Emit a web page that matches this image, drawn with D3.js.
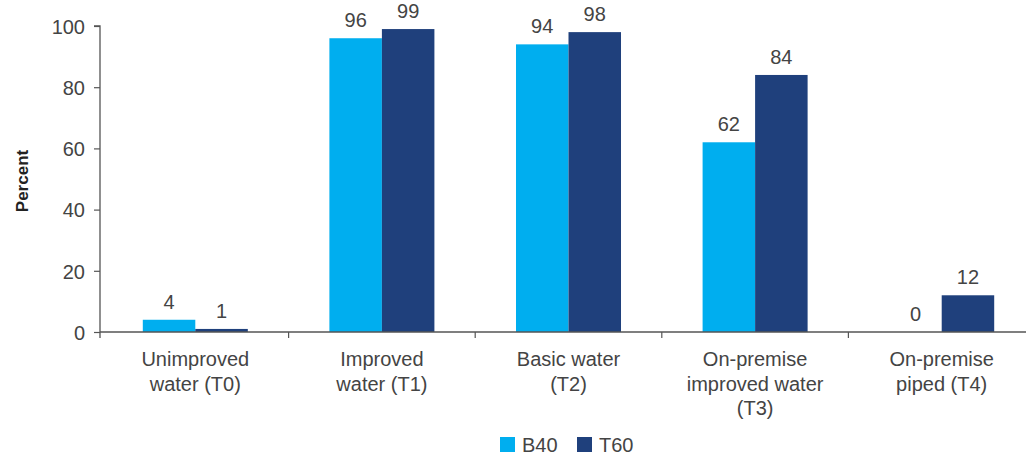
<!DOCTYPE html>
<html>
<head>
<meta charset="utf-8">
<script src="https://cdn.jsdelivr.net/npm/d3@7"></script>
<style>
  html, body { margin: 0; padding: 0; background: #fff; }
  svg text { font-family: "Liberation Sans", Arial, Helvetica, sans-serif; }
</style>
</head>
<body>
<svg id="chart" width="1026" height="456"></svg>
<script>
// Access to water services, bottom 40% vs top 60%
const categories = [
  ["Unimproved", "water (T0)"],
  ["Improved", "water (T1)"],
  ["Basic water", "(T2)"],
  ["On-premise", "improved water", "(T3)"],
  ["On-premise", "piped (T4)"]
];
const seriesNames = ["B40", "T60"];
const b40 = [4, 96, 94, 62, 0];
const t60 = [1, 99, 98, 84, 12];
const yTicks = [0, 20, 40, 60, 80, 100];
const colors = { B40: "#00aeef", T60: "#1f407c" };

(function draw() {
  const svg = d3.select("#chart");
  const mLeft = 100, mRight = 1035, mTop = 26, mBottom = 332;
  const fontSize = "20px";

  const x = d3.scaleBand()
    .domain(d3.range(categories.length))
    .range([mLeft + 2, mRight])
    .paddingInner(0)
    .paddingOuter(0);

  const xSub = d3.scaleBand()
    .domain(seriesNames)
    .range([0, x.bandwidth()])
    .paddingInner(0)
    .paddingOuter(0.777);

  const y = d3.scaleLinear().domain([0, 100]).range([mBottom, mTop]);

  const textColor = "#444";
  const axisColor = "#555";

  // y axis
  const yAxis = svg.append("g")
    .attr("transform", `translate(${mLeft},0)`)
    .call(d3.axisLeft(y).tickValues(yTicks).tickSize(6).tickPadding(9));
  yAxis.select(".domain").attr("stroke", axisColor).attr("stroke-width", 1.3)
    .attr("d", `M-6,${y(100)}H0V${mBottom + 6}`);
  yAxis.selectAll(".tick line").attr("stroke", axisColor).attr("stroke-width", 1.2);
  yAxis.selectAll(".tick text")
    .attr("fill", textColor)
    .style("font-size", fontSize)
    .attr("dy", "0.36em");

  // y axis title
  svg.append("text")
    .attr("transform", `translate(28,181) rotate(-90)`)
    .attr("text-anchor", "middle")
    .attr("fill", "#222")
    .style("font-size", "17px")
    .style("font-weight", 700)
    .text("Percent");

  // bars
  const rows = categories.map((c, i) => ({ i, values: [
    { key: "B40", v: b40[i] }, { key: "T60", v: t60[i] }
  ]}));

  const groups = svg.append("g").selectAll("g")
    .data(rows).join("g")
    .attr("transform", d => `translate(${x(d.i)},0)`);

  groups.selectAll("rect")
    .data(d => d.values).join("rect")
    .attr("x", d => xSub(d.key))
    .attr("width", xSub.bandwidth())
    .attr("y", d => y(d.v))
    .attr("height", d => y(0) - y(d.v))
    .attr("fill", d => colors[d.key]);

  groups.selectAll("text.val")
    .data(d => d.values).join("text")
    .attr("class", "val")
    .attr("x", d => xSub(d.key) + xSub.bandwidth() / 2)
    .attr("y", d => y(d.v) - 11)
    .attr("text-anchor", "middle")
    .attr("fill", textColor)
    .style("font-size", fontSize)
    .text(d => d.v);

  // x axis
  const xAxisG = svg.append("g");
  xAxisG.append("line")
    .attr("x1", mLeft).attr("x2", mRight)
    .attr("y1", mBottom).attr("y2", mBottom)
    .attr("stroke", axisColor).attr("stroke-width", 1.3);
  xAxisG.selectAll("line.sep")
    .data(d3.range(1, categories.length)).join("line")
    .attr("class", "sep")
    .attr("x1", i => x(i)).attr("x2", i => x(i))
    .attr("y1", mBottom).attr("y2", mBottom + 6)
    .attr("stroke", axisColor).attr("stroke-width", 1.2);

  const catLabels = xAxisG.selectAll("text.cat")
    .data(categories).join("text")
    .attr("class", "cat")
    .attr("text-anchor", "middle")
    .attr("fill", textColor)
    .style("font-size", fontSize)
    .attr("transform", (d, i) => `translate(${x(i) + x.bandwidth() / 2},${mBottom + 34})`);
  catLabels.selectAll("tspan")
    .data(d => d).join("tspan")
    .attr("x", 0)
    .attr("dy", (d, j) => j === 0 ? 0 : 24.5)
    .text(d => d);

  // legend
  const legend = svg.append("g").attr("transform", "translate(500,437)");
  const items = legend.selectAll("g").data(seriesNames).join("g")
    .attr("transform", (d, i) => `translate(${i * 77},0)`);
  items.append("rect")
    .attr("width", 15).attr("height", 15)
    .attr("fill", d => colors[d]);
  items.append("text")
    .attr("x", 22).attr("y", 15)
    .attr("fill", textColor)
    .style("font-size", fontSize)
    .text(d => d);
})();
</script>
</body>
</html>
